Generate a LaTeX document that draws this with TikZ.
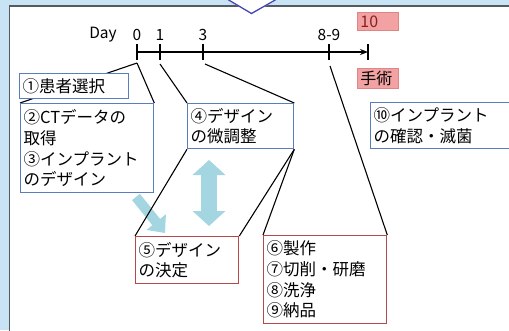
\documentclass[tikz,border=0pt]{standalone}
\usepackage{fontspec}
\setmainfont{Noto Sans CJK JP}
\usetikzlibrary{arrows.meta}
\definecolor{bgblue}{HTML}{C8E4F4}
\definecolor{panelline}{HTML}{555A60}
\definecolor{boxblue}{HTML}{5A7DBE}
\definecolor{boxred}{HTML}{B84848}
\definecolor{pinkfill}{HTML}{F2A2A2}
\definecolor{pinkline}{HTML}{E08484}
\definecolor{arrowcyan}{HTML}{A3D6E1}
\definecolor{chevron}{HTML}{4646B4}
\definecolor{darkred}{HTML}{8B2020}
\pgfdeclarelayer{back}
\pgfdeclarelayer{mid}
\pgfsetlayers{back,mid,main}
\tikzset{
  txt/.style={font=\fontsize{16.5}{20.7}\selectfont},
  bx/.style={rectangle, draw, fill=white, line width=1.3pt, inner xsep=3pt, inner ysep=0pt,
    anchor=north west, align=left, txt},
  bluebox/.style={bx, draw=boxblue},
  redbox/.style={bx, draw=boxred},
  pinkbox/.style={rectangle, draw=pinkline, fill=pinkfill, line width=0.8pt, inner xsep=3pt,
    inner ysep=0pt, anchor=north west, align=left},
  conn/.style={black, line width=1.1pt},
  tick/.style={black, line width=1.4pt},
  lab/.style={font=\fontsize{15.5}{18}\selectfont, inner sep=0pt},
  bigarrow/.style={draw=arrowcyan!85!black!90, fill=arrowcyan, line width=0.4pt},
}
\begin{document}
\begin{tikzpicture}[x=1pt,y=-1pt]
\useasboundingbox (0,0) rectangle (509,330);
\clip (0,0) rectangle (509,330);
% boxes (nodes)
\node[bluebox, minimum width=109pt, minimum height=25pt, text width=103pt] (b1) at (19,73) {①患者選択};
\node[bluebox, minimum width=133pt, minimum height=89pt, text width=127pt] (b2) at (20,103)
  {②CTデータの\\取得\\③インプラント\\のデザイン};
\node[bluebox, minimum width=106pt, minimum height=45pt, text width=100pt] (b4) at (187,103)
  {④デザイン\\の微調整};
\node[redbox, minimum width=103pt, minimum height=47pt, text width=97pt] (b5) at (135,236)
  {⑤デザイン\\の決定};
\node[redbox, minimum width=123pt, minimum height=88pt, text width=117pt] (b6) at (263,235)
  {⑥製作\\⑦切削・研磨\\⑧洗浄\\⑨納品};
\node[bluebox, minimum width=150pt, minimum height=46pt, text width=144pt] (b10) at (370,102)
  {⑩インプラント\\の確認・滅菌};
\node[pinkbox, minimum width=41pt, minimum height=18pt, text width=35pt,
  font=\fontsize{16}{18}\selectfont, text=darkred] (p10) at (357,12) {10};
\node[pinkbox, minimum width=41pt, minimum height=20pt, text width=35pt,
  font=\fontsize{16}{18}\selectfont] (pop) at (357,68) {手術};
% timeline coordinates
\coordinate (d0) at (137,52);
\coordinate (d1) at (160,52);
\coordinate (d3) at (203,52);
\coordinate (d89) at (329,52);
\coordinate (dend) at (368,52);
\coordinate (d0b) at (137,63);
\coordinate (d1b) at (160,64);
\coordinate (d3b) at (205,64);
\coordinate (d89b) at (330,66);
% timeline
\draw[tick, -{Stealth[length=8pt,width=6pt]}] (d0) -- (dend);
\foreach \c in {d0,d1,d3,d89,dend}
  \draw[tick] ([yshift=-7.5pt]\c) -- ([yshift=8.5pt]\c);
\node[lab] (day) at (103,35) {Day};
\node[lab] (l0) at (137,35) {0};
\node[lab] (l1) at (160,35) {1};
\node[lab] (l3) at (203,35) {3};
\node[lab] (l89) at (329,35) {8-9};
% background layer
\begin{pgfonlayer}{back}
\fill[bgblue] (0,0) rectangle (509,330);
\draw[panelline, fill=white, line width=1.6pt] (9.5,6) rectangle (520,340);
\fill[white] (227,0) -- (251.5,13.5) -- (277,0) -- cycle;
\draw[chevron, line width=1.3pt] (227,-1) -- (251.5,13.5) -- (277,-1);
% light blue arrows
\coordinate (a1s) at (136,197);
\coordinate (a1e) at (165,233);
\draw[arrowcyan, line width=10pt, -{Triangle[length=14pt,width=24pt]}] (a1s) -- (a1e);
\coordinate (a2s) at (209,160);
\coordinate (a2e) at (209,226);
\draw[arrowcyan, line width=16pt, {Triangle[length=15pt,width=32pt]}-{Triangle[length=15pt,width=32pt]}] (a2s) -- (a2e);
\end{pgfonlayer}
% connectors
\begin{pgfonlayer}{mid}
\draw[conn] (d0b) -- (b2.north west);
\draw[conn] (d0b) -- (b2.north east);
\draw[conn] (d1b) -- (b4.north west);
\draw[conn] (d3b) -- (b4.north east);
\draw[conn] (b4.south west) -- (b5.north west);
\draw[conn] (b4.south east) -- (b5.north east);
\draw[conn] (b4.south east) -- (b6.north west);
\draw[conn] (d89b) -- (b6.north east);
\end{pgfonlayer}
\end{tikzpicture}
\end{document}
